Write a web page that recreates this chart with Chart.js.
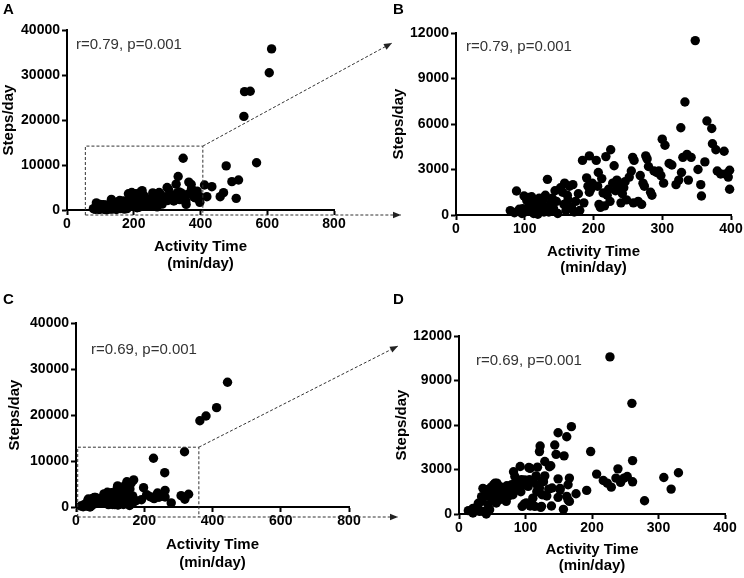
<!DOCTYPE html>
<html>
<head>
<meta charset="utf-8">
<script src="https://cdn.jsdelivr.net/npm/chart.js@4.4.1/dist/chart.umd.min.js"></script>
<style>
body { margin: 0; background: #fff; }
#wrap { position: relative; width: 744px; height: 578px; overflow: hidden; background: #fff; }
canvas { position: absolute; }
</style>
</head>
<body>
<div id="wrap">
  <canvas id="cA" width="372" height="282" style="left:0;top:0"></canvas>
  <canvas id="cB" width="372" height="282" style="left:372px;top:0"></canvas>
  <canvas id="cC" width="372" height="308" style="left:0;top:270px"></canvas>
  <canvas id="cD" width="372" height="308" style="left:372px;top:270px"></canvas>
  <canvas id="overlay" width="744" height="578" style="left:0;top:0"></canvas>
</div>
<script>
// panel B = zoomed region of panel A (min/day vs steps/day)
const timeB = [79, 85, 88, 92, 96, 99, 100, 97,
  103, 105, 107, 110, 108, 112, 115, 113, 118, 120, 117, 122, 124, 121, 119,
  127, 130, 133, 131, 135, 138, 140, 142, 144, 146, 148, 137, 128,
  152, 155, 158, 157, 160, 163, 165, 168, 170, 172, 174, 162,
  178, 180, 184, 186, 190, 192, 194, 196, 198, 194,
  204, 206, 207, 208, 210, 212, 214, 218, 220, 222, 225, 224, 216,
  228, 230, 232, 234, 238, 240, 242, 246, 248, 244,
  252, 255, 257, 259, 258, 265, 268, 270, 272, 274, 276,
  278, 280, 283, 285, 288, 292, 295, 298, 300, 304, 302,
  310, 314, 320, 324, 327, 328, 330, 333, 336, 338, 342,
  352, 356, 357, 348, 362, 365, 372, 373, 378, 380, 385, 390, 392, 396, 398, 398];
const stepsB = [290, 150, 1580, 380, 100, 1250, 200, 420,
  950, 1150, 600, 1200, 300, 800, 1000, 100, 450, 900, 150, 650, 300, 1100, 50,
  1000, 1300, 2350, 500, 200, 800, 1100, 400, 1600, 900, 100, 300, 200,
  1800, 1500, 2100, 700, 300, 1000, 1900, 500, 2000, 200, 900, 1300,
  1400, 300, 3600, 800, 2450, 1900, 3900, 1700, 2100, 1500,
  3600, 1900, 2800, 700, 500, 2400, 1450, 3850, 1300, 1700, 4300, 900, 600,
  2100, 3250, 1600, 2300, 1900, 800, 1400, 2200, 1000, 1800,
  2500, 2900, 3800, 3600, 800, 900, 2600, 700, 2100, 1900, 3900,
  3700, 3200, 1500, 1300, 2900, 2800, 2900, 2600, 5000, 4600, 2100,
  3400, 3300, 2000, 2300, 5750, 2800, 3800, 7450, 4000, 2300, 3800,
  3000, 2000, 1250, 11500, 3500, 6200, 5700, 4700, 4300, 2900, 2700, 4200, 2700, 2500, 2950, 1700];

// points only visible in the wide panel A
const timeAExtra = [412, 434, 419, 477, 469, 459, 494, 514, 507, 568, 530, 532, 549, 606, 613];
const stepsAExtra = [5550, 5180, 2960, 9800, 3850, 2960, 6300, 6670, 2590, 10500, 20800, 26300, 26400, 30500, 35800];

// panel D = zoomed region of panel C
const timeD = [14, 21, 21, 28, 29, 31, 34, 34, 37, 36, 39, 41, 41, 44, 46, 49, 51, 52, 54, 56,
  56, 57, 59, 61, 62, 64, 66, 69, 71, 74, 76, 79, 81, 82, 84, 84, 86, 89, 91, 92,
  94, 95, 97, 98, 100, 101, 104, 105, 106, 107, 107, 111, 111, 114, 116, 117, 117, 118, 121, 121,
  122, 123, 124, 125, 125, 127, 129, 129, 132, 135, 136, 138, 139, 140, 144, 146, 149, 149, 149, 152,
  152, 157, 158, 162, 162, 164, 164, 166, 166, 169, 176, 192, 198, 207, 217, 223, 227, 229, 236, 239,
  243, 248, 253, 261, 261, 260, 279, 308, 319, 330,
  45, 48, 53, 58, 63, 68, 72, 77, 87, 93, 99, 103];
const stepsD = [225, 380, 70, 515, 720, 180, 850, 1170, 180, 1730, 1190, 1630, 0, 630, 290, 1070, 1410, 1970, 2070, 740,
  1410, 2080, 1860, 960, 1840, 1630, 1300, 1750, 850, 1190, 1520, 1970, 1300, 2850, 1750, 2530, 2190, 1630, 1860, 3200,
  2310, 515, 1970, 674, 2080, 740, 1860, 3130, 2310, 540, 3080, 2190, 1070, 515, 2570, 1505, 1970, 3160, 1750, 4210,
  4580, 450, 515, 1300, 2190, 2180, 3540, 2570, 1213, 1680, 3190, 3250, 540, 1750, 4650, 4020, 1123, 2370, 5480, 1730,
  1630, 315, 3920, 5210, 1190, 944, 1970, 2420, 850, 5890, 1365, 1590, 4210, 2690, 2260, 2080, 10590, 1810, 2420, 3045,
  2130, 2420, 2530, 3600, 2170, 7460, 895, 2460, 1680, 2780,
  1500, 1800, 1200, 1000, 1400, 1100, 1900, 1700, 2000, 1500, 2300, 2200];

// points only visible in the wide panel C
const timeCExtra = [363, 381, 412, 444, 318];
const stepsCExtra = [18760, 19780, 21600, 27130, 12000];

const xTicksWide = [0, 200, 400, 600, 800];
const xTicksZoom = [0, 100, 200, 300, 400];
const yTicksWide = [0, 10000, 20000, 30000, 40000];
const yTicksZoom = [0, 3000, 6000, 9000, 12000];

const statA = 'r=0.79, p=0.001';
const statC = 'r=0.69, p=0.001';
const boxA = { x0: 55, x1: 407, y1: 14200 };
const boxC = { x0: 5, x1: 360, y1: 13000 };

const FONT = '"Liberation Sans", Arial, Helvetica, sans-serif';

function toPoints(xs, ys) {
  return xs.map((x, i) => ({ x: x, y: ys[i] }));
}

// writes the r / p note inside the plot
const notePlugin = {
  id: 'note',
  afterDraw(chart, args, opts) {
    const ctx = chart.ctx;
    const a = chart.chartArea;
    ctx.save();
    ctx.font = '15px ' + FONT;
    ctx.fillStyle = '#333';
    ctx.textBaseline = 'middle';
    ctx.fillText(opts.text, a.left + opts.dx, a.top + opts.dy);
    ctx.restore();
  }
};

function makePanel(id, cfg) {
  const a = cfg.area;
  const tickFont = { family: FONT, size: 14, weight: 'bold' };
  const titleFont = { family: FONT, size: 15, weight: 'bold' };
  const padLeft = cfg.yTitleX - 8.25;
  const grid = { drawOnChartArea: false, drawTicks: true, tickLength: 5, tickWidth: 2, tickColor: '#000', color: '#000' };
  const border = { display: true, color: '#000', width: 2 };
  return new Chart(document.getElementById(id), {
    type: 'scatter',
    data: {
      datasets: [{
        data: toPoints(cfg.xs, cfg.ys),
        pointRadius: 4.7,
        pointHoverRadius: 4.7,
        backgroundColor: '#000',
        borderColor: '#000',
        borderWidth: 0,
        clip: false
      }]
    },
    options: {
      responsive: false,
      animation: false,
      events: [],
      layout: { padding: { left: padLeft, top: a.top, right: cfg.w - a.right, bottom: 0 } },
      plugins: {
        legend: { display: false },
        tooltip: { enabled: false },
        note: { text: cfg.note, dx: cfg.noteDx, dy: cfg.noteDy }
      },
      scales: {
        x: {
          type: 'linear',
          min: cfg.xTicks[0],
          max: cfg.xTicks[cfg.xTicks.length - 1],
          afterBuildTicks: s => { s.ticks = cfg.xTicks.map(v => ({ value: v })); },
          afterFit: s => { s.height = cfg.h - a.bottom; },
          ticks: { font: tickFont, color: '#000', padding: 1, maxRotation: 0, callback: v => String(v) },
          grid: grid,
          border: border,
          title: {
            display: true,
            text: ['Activity Time', '(min/day)'],
            color: '#000',
            font: Object.assign({ lineHeight: cfg.xLh + 'px' }, titleFont),
            padding: { top: 0, bottom: cfg.h - cfg.xTitleY - cfg.xLh / 2 }
          }
        },
        y: {
          type: 'linear',
          min: cfg.yTicks[0],
          max: cfg.yTicks[cfg.yTicks.length - 1],
          afterBuildTicks: s => { s.ticks = cfg.yTicks.map(v => ({ value: v })); },
          afterFit: s => { s.width = a.left - padLeft; },
          ticks: { font: tickFont, color: '#000', padding: 2, callback: v => String(v) },
          grid: grid,
          border: border,
          title: {
            display: true,
            text: 'Steps/day',
            color: '#000',
            font: Object.assign({ lineHeight: '16.5px' }, titleFont),
            padding: 0
          }
        }
      }
    },
    plugins: [notePlugin]
  });
}

const chartA = makePanel('cA', {
  w: 372, h: 282, area: { left: 67, right: 334, top: 30, bottom: 210 },
  xs: timeB.concat(timeAExtra), ys: stepsB.concat(stepsAExtra),
  xTicks: xTicksWide, yTicks: yTicksWide,
  yTitleX: 8.5, xTitleY: 264, xLh: 17,
  note: statA, noteDx: 9, noteDy: 15
});
const chartB = makePanel('cB', {
  w: 372, h: 282, area: { left: 84, right: 359, top: 33, bottom: 215 },
  xs: timeB, ys: stepsB,
  xTicks: xTicksZoom, yTicks: yTicksZoom,
  yTitleX: 27, xTitleY: 268, xLh: 16,
  note: statA, noteDx: 10, noteDy: 14
});
const chartC = makePanel('cC', {
  w: 372, h: 308, area: { left: 76, right: 349, top: 53, bottom: 237 },
  xs: timeD.concat(timeCExtra), ys: stepsD.concat(stepsCExtra),
  xTicks: xTicksWide, yTicks: yTicksWide,
  yTitleX: 15, xTitleY: 293, xLh: 18,
  note: statC, noteDx: 15, noteDy: 27
});
const chartD = makePanel('cD', {
  w: 372, h: 308, area: { left: 87, right: 353, top: 66, bottom: 244 },
  xs: timeD, ys: stepsD,
  xTicks: xTicksZoom, yTicks: yTicksZoom,
  yTitleX: 30, xTitleY: 296, xLh: 16,
  note: statC, noteDx: 17, noteDy: 25
});

// dashed zoom boxes + connectors, drawn across panels
const ov = document.getElementById('overlay').getContext('2d');

function arrowHead(ctx, x0, y0, x1, y1) {
  const ang = Math.atan2(y1 - y0, x1 - x0);
  const len = 8, half = 3.2;
  ctx.beginPath();
  ctx.moveTo(x1, y1);
  ctx.lineTo(x1 - len * Math.cos(ang) + half * Math.sin(ang), y1 - len * Math.sin(ang) - half * Math.cos(ang));
  ctx.lineTo(x1 - len * Math.cos(ang) - half * Math.sin(ang), y1 - len * Math.sin(ang) + half * Math.cos(ang));
  ctx.closePath();
  ctx.fill();
}

function zoomLinks(wide, off, box, zoom, zoff, bottomGap, topTipDy, topTipDx, botTipDx) {
  const sx = wide.scales.x, sy = wide.scales.y;
  const x0 = off.x + sx.getPixelForValue(box.x0);
  const x1 = off.x + sx.getPixelForValue(box.x1);
  const yt = off.y + sy.getPixelForValue(box.y1);
  const yb = off.y + wide.chartArea.bottom + bottomGap;
  const zl = zoff.x + zoom.chartArea.left;
  const topTip = { x: zl - topTipDx, y: zoff.y + zoom.scales.y.getPixelForValue(zoom.scales.y.max) + topTipDy };
  const botTip = { x: zl - botTipDx, y: yb };
  ov.save();
  ov.strokeStyle = '#333';
  ov.fillStyle = '#222';
  ov.lineWidth = 1;
  ov.setLineDash([3, 2]);
  ov.beginPath();
  ov.moveTo(x0, yb); ov.lineTo(x0, yt); ov.lineTo(x1, yt); ov.lineTo(x1, yb);
  ov.moveTo(x1, yt); ov.lineTo(topTip.x, topTip.y);
  ov.moveTo(x0, yb); ov.lineTo(botTip.x, botTip.y);
  ov.stroke();
  ov.setLineDash([]);
  arrowHead(ov, x1, yt, topTip.x, topTip.y);
  arrowHead(ov, x0, yb, botTip.x, botTip.y);
  ov.restore();
}

zoomLinks(chartA, { x: 0, y: 0 }, boxA, chartB, { x: 372, y: 0 }, 5, 10, 64, 55);
zoomLinks(chartC, { x: 0, y: 270 }, boxC, chartD, { x: 372, y: 270 }, 10, 10, 61, 61);

// panel letters
ov.font = 'bold 15px ' + FONT;
ov.fillStyle = '#000';
ov.textBaseline = 'alphabetic';
ov.fillText('A', 3, 14);
ov.fillText('B', 393, 14);
ov.fillText('C', 3, 304);
ov.fillText('D', 393, 304);
</script>
</body>
</html>
